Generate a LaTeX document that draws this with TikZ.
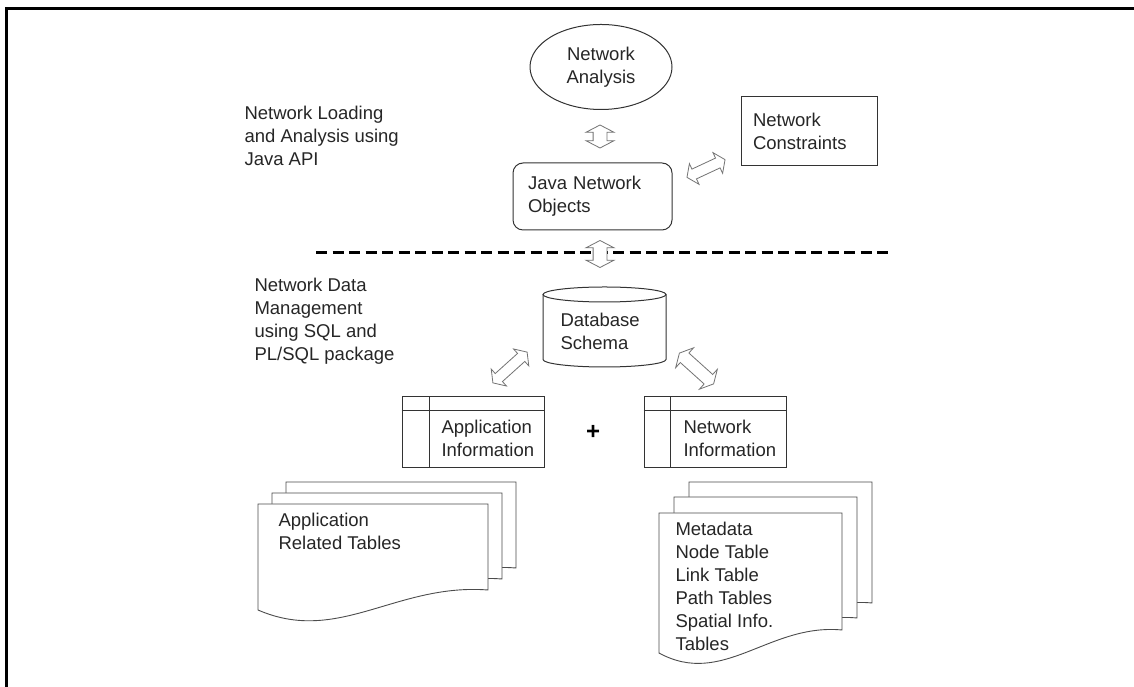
\documentclass[tikz,border=0pt]{standalone}
\usepackage{fontspec}
\setmainfont{Liberation Sans}
\usetikzlibrary{shapes.geometric,shapes.arrows}

\begin{document}
\begin{tikzpicture}[x=1pt,y=1pt,
  every node/.style={font=\fontsize{18.5}{23}\selectfont, text=black!85},
  box/.style={draw=black!80, line width=1pt, align=left},
  dblarr/.style={double arrow, draw=black!55, fill=white, line width=0.8pt,
    inner sep=6.5pt, minimum width=27pt, double arrow head extend=7pt,
    double arrow tip angle=125},
  thinarr/.style={dblarr, inner sep=5pt, minimum width=22pt,
    double arrow head extend=6pt, double arrow tip angle=110},
  sheet/.style={draw=black!70, fill=white, line width=0.9pt}]
  \useasboundingbox (0,0) rectangle (1134,687);
  % frame
  \draw[line width=3pt] (6,0) -- (6,678) -- (1134,678);

  % layer labels
  \node[anchor=west, align=left] (lbljava) at (241,551) {Network Loading\\and Analysis using\\Java API};
  \node[anchor=west, align=left] (lblsql) at (251,366) {Network Data\\Management\\using SQL and\\PL/SQL package};

  % java layer
  \node[box, ellipse, align=center, minimum width=142pt, minimum height=85pt, inner sep=0pt] (ana) at (601,620) {Network\\Analysis};
  \node[box, rounded corners=10pt, minimum width=159pt, minimum height=67pt, text width=129pt, inner xsep=15pt] (jno) at (592.5,490.5) {Java Network\\Objects};
  \node[box, minimum width=136pt, minimum height=69pt, text width=112pt, inner xsep=12pt] (cons) at (809,555.5) {Network\\Constraints};

  \coordinate (sepl) at (316,434);
  \coordinate (sepr) at (890,434);
  \draw[line width=3pt, dash pattern=on 11pt off 5.5pt] (sepl) -- (sepr);

  \node[dblarr, rotate=90, minimum height=23pt] (a1) at (600,550.5) {};
  \node[thinarr, rotate=25, minimum height=42pt] (a2) at (706,518.5) {};
  \node[dblarr, rotate=90, minimum height=27pt] (a3) at (600,433) {};

  % database
  \draw[box] (543,392.5) -- (543,327.5) arc[start angle=180, end angle=360, x radius=61.5, y radius=7.5] -- (666,392.5);
  \draw[box] (604.5,392.5) ellipse [x radius=61.5, y radius=7.5];
  \node[anchor=west, align=left] (dbs) at (557,356) {Database\\Schema};

  \node[thinarr, rotate=42, minimum height=46pt] (a4) at (510,319.5) {};
  \node[dblarr, rotate=-42, minimum height=46pt, inner sep=6pt, minimum width=25pt] (a5) at (696.5,318.5) {};

  % tables
  \node[box, minimum width=142pt, minimum height=71pt] (appinfo) at (473,254.5) {};
  \draw[box] ([yshift=-14pt]appinfo.north west) -- ([yshift=-14pt]appinfo.north east);
  \draw[box] ([xshift=28pt]appinfo.north west) -- ([xshift=28pt]appinfo.south west);
  \node[anchor=west, align=left] (appinfotxt) at (438,249) {Application\\Information};

  \node[font=\fontsize{24}{24}\selectfont\bfseries, text=black] (plus) at (593,255) {+};

  \node[box, minimum width=142pt, minimum height=71pt] (netinfo) at (715,254.5) {};
  \draw[box] ([yshift=-14pt]netinfo.north west) -- ([yshift=-14pt]netinfo.north east);
  \draw[box] ([xshift=27pt]netinfo.north west) -- ([xshift=27pt]netinfo.south west);
  \node[anchor=west, align=left] (netinfotxt) at (680,249) {Network\\Information};

  % document stacks
  \draw[sheet] (286,205) -- (516,205) -- (516,119) .. controls (424,126) and (366.5,64) .. (286,99) -- cycle;
  \draw[sheet] (272,194) -- (502,194) -- (502,108) .. controls (410,115) and (352.5,53) .. (272,88) -- cycle;
  \draw[sheet] (258,183) -- (488,183) -- (488,97) .. controls (396,104) and (338.5,42) .. (258,77) -- cycle;
  \node[anchor=west, align=left] (appdoc) at (275,155.5) {Application\\Related Tables};

  \draw[sheet] (689,205) -- (872,205) -- (872,84) .. controls (799,91) and (753,26) .. (689,61) -- cycle;
  \draw[sheet] (674,190) -- (857,190) -- (857,69) .. controls (784,76) and (738,11) .. (674,46) -- cycle;
  \draw[sheet] (659,174) -- (842,174) -- (842,57) .. controls (769,64) and (723,-1) .. (659,34) -- cycle;
  \node[anchor=west, align=left] (netdoc) at (672,101) {Metadata\\Node Table\\Link Table\\Path Tables\\Spatial Info.\\Tables};
\end{tikzpicture}
\end{document}
